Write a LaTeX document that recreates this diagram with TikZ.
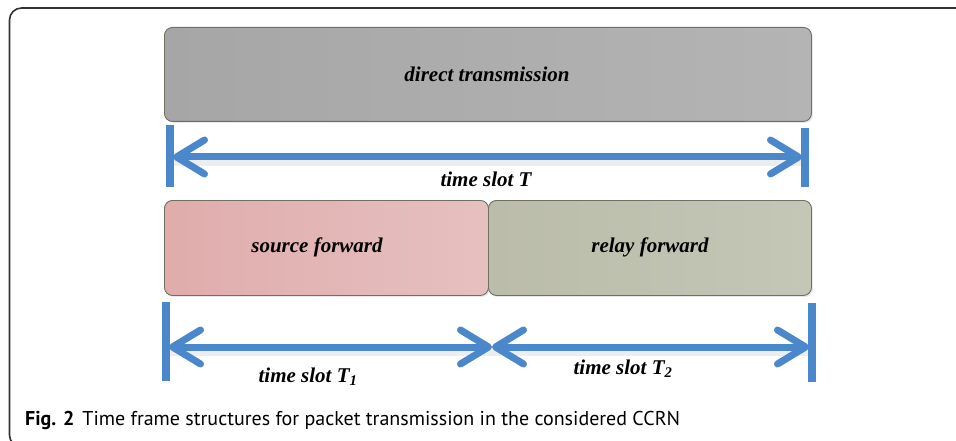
\documentclass[tikz,border=0pt]{standalone}
\usepackage{fontspec}
\setmainfont{Liberation Serif}
\newfontfamily\capfont{PT Sans}
\usetikzlibrary{arrows.meta,shadows}
\definecolor{framegray}{HTML}{333333}
\definecolor{boxedge}{HTML}{6E7062}
\definecolor{directfill}{HTML}{A6A6A6}
\definecolor{directfillb}{HTML}{B4B4B4}
\definecolor{sourcefill}{HTML}{E0ACAC}
\definecolor{sourcefillb}{HTML}{E6C0C0}
\definecolor{relayfill}{HTML}{BBBDAA}
\definecolor{relayfillb}{HTML}{C4C6B6}
\definecolor{spanblue}{HTML}{4A87CB}
\tikzset{
  slotbox/.style={draw=boxedge, line width=0.9pt, rounded corners=8pt,
    anchor=north west, inner sep=0pt,
    drop shadow={shadow xshift=1.5pt, shadow yshift=-1.5pt, opacity=0.18}},
  slotlabel/.style={font=\fontsize{21}{24}\selectfont\bfseries\itshape, inner sep=0pt},
  span/.style={draw=spanblue, line width=7pt, line cap=round,
    arrows={Straight Barb[length=28pt, width=34pt, round]-Straight Barb[length=28pt, width=34pt, round]}},
  bar/.style={draw=spanblue, line width=7.5pt},
  spanshadow/.style={draw=black, opacity=0.07, line width=10pt, line cap=round},
}
\begin{document}
\begin{tikzpicture}[x=1pt, y=-1pt]
\useasboundingbox (0,0) rectangle (956,441);
% outer frame, cut off at the right and bottom edges
\begin{scope}
\clip (0,0) rectangle (956,441);
\draw[framegray, line width=1.6pt, rounded corners=12pt] (9.5,8) rectangle (990,447);
\end{scope}

% slot boxes
\node[slotbox, left color=directfill, right color=directfillb,
  minimum width=647pt, minimum height=94pt] (direct) at (164,27) {};
\node[slotlabel] at (487,74) {direct transmission};
\node[slotbox, left color=sourcefill, right color=sourcefillb,
  minimum width=324pt, minimum height=95pt] (source) at (164,200) {};
\node[slotlabel] at (317,247) {source forward};
\node[slotbox, left color=relayfill, right color=relayfillb,
  minimum width=323pt, minimum height=95pt] (relay) at (488,200) {};
\node[slotlabel] at (650,247) {relay forward};

% end bars of the spans
\coordinate (tlTop) at (170,125); \coordinate (tlBot) at (170,187);
\coordinate (trTop) at (805,128); \coordinate (trBot) at (805,187);
\coordinate (blTop) at (166,302); \coordinate (blBot) at (166,381);
\coordinate (brTop) at (812,303); \coordinate (brBot) at (812,382);
\coordinate (tl) at (173,157); \coordinate (tr) at (802,157);
\coordinate (bl) at (169,347); \coordinate (bm) at (492,347); \coordinate (br) at (809,347);

% soft shadows under the spans
\draw[spanshadow] ([shift={(2,4)}]tl) -- ([shift={(2,4)}]tr);
\draw[spanshadow] ([shift={(2,4)}]bl) -- ([shift={(2,4)}]br);

\draw[bar] (tlTop) -- (tlBot);
\draw[bar] (trTop) -- (trBot);
\draw[bar] (blTop) -- (blBot);
\draw[bar] (brTop) -- (brBot);

\draw[span] (tl) -- (tr);
\draw[span] (bl) -- (bm);
\draw[span] (bm) -- (br);

\node[slotlabel] (lblT) at (486,179) {time slot T};
\node[slotlabel] (lblT1) at (308,377) {time slot T\textsubscript{1}};
\node[slotlabel] (lblT2) at (623,369) {time slot T\textsubscript{2}};

% caption
\node[anchor=base west, inner sep=0pt, font=\capfont\fontsize{20}{22}\selectfont] (caption) at (25,425)
  {\textbf{Fig. 2}\hspace{8pt}Time frame structures for packet transmission in the considered CCRN};
\end{tikzpicture}
\end{document}
